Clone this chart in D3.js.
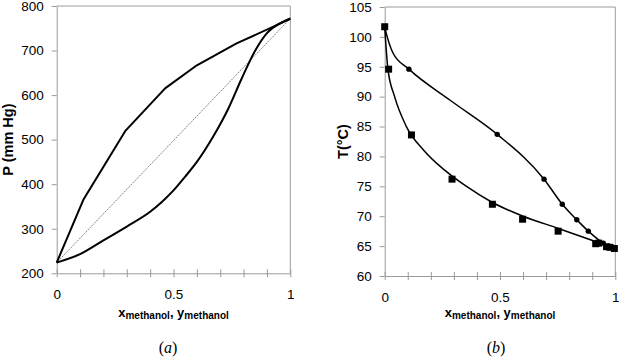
<!DOCTYPE html>
<html><head><meta charset="utf-8">
<script src="https://cdn.jsdelivr.net/npm/d3@7"></script>
<style>
html,body{margin:0;padding:0;background:#fff;}
svg{display:block;font-family:"Liberation Sans",Arial,sans-serif;}
</style></head>
<body>
<svg id="c" width="619" height="357"></svg>
<script>
// ---- Chart (a): P-x-y ----
const aBubbleX = [0, 0.114, 0.293, 0.464, 0.6, 0.77, 1];
const aBubbleP = [224, 365, 519, 615, 667, 716, 771];
const aDewY = [0, 0.1, 0.2, 0.3, 0.4, 0.45, 0.5, 0.55, 0.6, 0.67, 0.735, 0.79, 0.85, 0.9, 0.97, 1];
const aDewP = [224, 243, 274, 305, 338, 360, 386, 417, 450, 507, 570, 635, 700, 739, 765, 772];
const aDiagX = [0, 1];
const aDiagP = [224, 772];
const aYTicks = [200, 300, 400, 500, 600, 700, 800];
const aXTicks = [0, 0.1, 0.2, 0.3, 0.4, 0.5, 0.6, 0.7, 0.8, 0.9, 1];
const xTickLabels = ["0", "0.5", "1"];

// ---- Chart (b): T-x-y ----
const bSqX = [0, 0.017, 0.116, 0.292, 0.467, 0.598, 0.752, 0.915, 0.928, 0.962, 0.977, 0.996];
const bSqT = [101.7, 94.6, 83.6, 76.2, 72.0, 69.5, 67.5, 65.4, 65.5, 64.9, 64.8, 64.6];
const bCircX = [0.105, 0.488, 0.691, 0.770, 0.833, 0.883, 0.948];
const bCircT = [94.6, 83.7, 76.2, 72.0, 69.4, 67.5, 65.5];
const bBubbleCurveX = [0, 0.014, 0.043, 0.094, 0.17, 0.26, 0.35, 0.467, 0.6, 0.75, 0.92, 1];
const bBubbleCurveT = [101.7, 94.6, 90, 85, 81, 77.7, 75.1, 72.3, 70.0, 68.0, 65.7, 64.6];
const bDewCurveX = [0, 0.011, 0.036, 0.105, 0.284, 0.488, 0.691, 0.770, 0.833, 0.883, 0.948, 1];
const bDewCurveT = [101.7, 100, 97.3, 94.6, 89.4, 83.7, 76.2, 72.0, 69.4, 67.5, 65.5, 64.6];
const bYTicks = [60, 65, 70, 75, 80, 85, 90, 95, 100, 105];

const svg = d3.select("#c");
const gray = "#9a9a9a";

function panel(xr, yDomain, yr, yTicks, xTitleX, yTitle, yTitleX, caption, captionX) {
  const x = d3.scaleLinear([0, 1], xr);
  const y = d3.scaleLinear(yDomain, yr);
  const g = svg.append("g");
  g.append("line").attr("x1", xr[0]).attr("x2", xr[1]).attr("y1", yr[1]).attr("y2", yr[1]).attr("stroke", gray);
  g.append("line").attr("x1", xr[1]).attr("x2", xr[1]).attr("y1", yr[1]).attr("y2", yr[0]).attr("stroke", gray);
  const ya = g.append("g").attr("transform", `translate(${xr[0]},0)`)
    .call(d3.axisLeft(y).tickValues(yTicks).tickSizeInner(5).tickSizeOuter(0).tickPadding(8).tickFormat(d3.format("d")));
  ya.select(".domain").attr("stroke", gray);
  ya.selectAll(".tick line").attr("stroke", gray);
  ya.selectAll("text").attr("font-size", 13.5).attr("fill", "#000").attr("font-family", "Liberation Sans, Arial, sans-serif");
  const xa = g.append("g").attr("transform", `translate(0,${yr[0]})`)
    .call(d3.axisBottom(x).tickValues(aXTicks).tickSizeOuter(0).tickSizeInner(4).tickPadding(12)
      .tickFormat(d => { const s = d3.format("~g")(d); return xTickLabels.includes(s) ? s : ""; }));
  xa.select(".domain").attr("stroke", gray);
  xa.selectAll(".tick line").attr("stroke", gray).attr("y1", -4).attr("y2", 4);
  xa.selectAll("text").attr("font-size", 13.5).attr("fill", "#000").attr("font-family", "Liberation Sans, Arial, sans-serif");
  const t = g.append("text").attr("x", xTitleX).attr("y", 317).attr("text-anchor", "middle")
    .attr("font-weight", "bold").attr("font-size", 13);
  t.append("tspan").text("x");
  t.append("tspan").attr("font-size", 10).attr("dy", 2).text("methanol");
  t.append("tspan").attr("dy", -2).text(", y");
  t.append("tspan").attr("font-size", 10).attr("dy", 2).text("methanol");
  g.append("text").attr("transform", `translate(${yTitleX},${(yr[0] + yr[1]) / 2}) rotate(-90)`)
    .attr("text-anchor", "middle").attr("font-weight", "bold").attr("font-size", 14.5).text(yTitle);
  g.append("text").attr("x", captionX).attr("y", 353).attr("text-anchor", "middle")
    .attr("font-family", "Liberation Serif, Times New Roman, serif").attr("font-size", 16)
    .html(`(<tspan font-style="italic">${caption}</tspan>)`);
  return {x, y, g};
}

// Panel a
const A = panel([56.7, 290.3], [200, 800], [273.3, 6], aYTicks, 173.5, "P (mm Hg)", 13, "a", 168);
const lineA = (xs, ys) => d3.line().x((d, i) => A.x(xs[i])).y((d, i) => A.y(ys[i]))(xs);
A.g.append("path").attr("d", lineA(aDiagX, aDiagP)).attr("fill", "none").attr("stroke", "#555").attr("stroke-width", 0.8).attr("stroke-dasharray", "1.5,1");
A.g.append("path").attr("d", lineA(aBubbleX, aBubbleP)).attr("fill", "none").attr("stroke", "#000").attr("stroke-width", 2).attr("stroke-linejoin", "round");
A.g.append("path").attr("d", d3.line().curve(d3.curveMonotoneX).x((d, i) => A.x(aDewY[i])).y((d, i) => A.y(aDewP[i]))(aDewY))
  .attr("fill", "none").attr("stroke", "#000").attr("stroke-width", 2);

// Panel b
const B = panel([384.7, 615.3], [60, 105], [276, 7], bYTicks, 500, "T(°C)", 348, "b", 496);
const lineB = (xs, ys) => d3.line().curve(d3.curveMonotoneX).x((d, i) => B.x(xs[i])).y((d, i) => B.y(ys[i]))(xs);
B.g.append("path").attr("d", lineB(bBubbleCurveX, bBubbleCurveT)).attr("fill", "none").attr("stroke", "#000").attr("stroke-width", 1.5);
B.g.append("path").attr("d", lineB(bDewCurveX, bDewCurveT)).attr("fill", "none").attr("stroke", "#000").attr("stroke-width", 1.5);
B.g.selectAll("rect.sq").data(bSqX).join("rect").attr("class", "sq")
  .attr("x", (d) => B.x(d) - 3.5).attr("y", (d, i) => B.y(bSqT[i]) - 3.5).attr("width", 7).attr("height", 7).attr("fill", "#000");
B.g.selectAll("circle.ci").data(bCircX).join("circle").attr("class", "ci")
  .attr("cx", d => B.x(d)).attr("cy", (d, i) => B.y(bCircT[i])).attr("r", 2.7).attr("fill", "#000");
</script>
</body></html>
